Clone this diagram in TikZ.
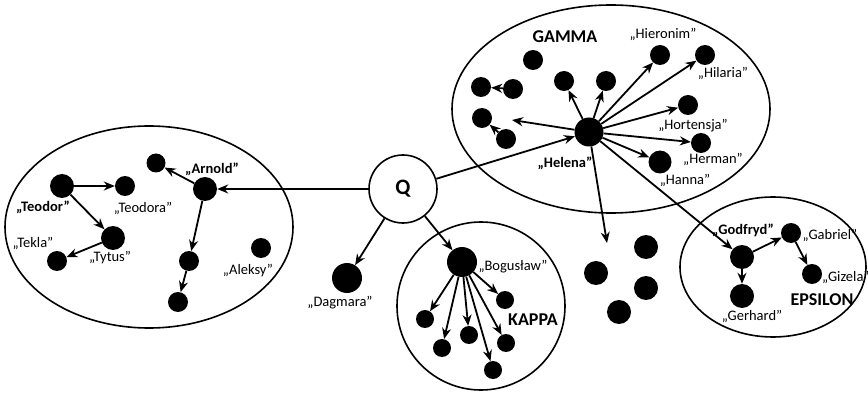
\documentclass[tikz,border=0pt]{standalone}
\usepackage{fontspec}
\setmainfont{Carlito}
\usetikzlibrary{arrows.meta}

\begin{document}
\begin{tikzpicture}[x=1pt, y=-1pt, >={Stealth[length=11pt, width=9pt]},
        pers/.style={circle, fill=black, inner sep=0pt, minimum size=#1},
        pers/.default=20,
        imie/.style={font=\fontsize{14.5}{16}\selectfont, inner sep=0pt},
        imieB/.style={font=\fontsize{14.5}{16}\selectfont\bfseries, inner sep=0pt},
        grupa/.style={font=\fontsize{18}{20}\selectfont\bfseries, inner sep=0pt},
        rel/.style={->, line width=1.8pt},
        zbior/.style={line width=1.6pt}]
        \useasboundingbox (0,0) rectangle (868,393);

        % zbiory
        \draw[zbior] (149,227) ellipse [x radius=144, y radius=101];
        \draw[zbior] (481,306) circle [radius=84];
        \draw[zbior] (611,109) ellipse [x radius=159, y radius=104];
        \draw[zbior] (773,267) ellipse [x radius=93, y radius=70];

        % Q
        \node[draw, circle, line width=1.6pt, minimum size=68, inner sep=0pt,
        font=\fontsize{22}{24}\selectfont\bfseries] (q) at (403,189) {Q};

        % lewy zbior
        \node[pers=24] (teodor) at (62,186) {};
        \node[pers] (teodora) at (125,186) {};
        \node[pers=24] (tytus) at (113,238) {};
        \node[pers] (tekla) at (57,261) {};
        \node[pers=24] (arnold) at (205,189) {};
        \node[pers=19] (arnoldL) at (156,163) {};
        \node[pers] (arnoldD) at (189,261) {};
        \node[pers] (arnoldDD) at (178,302) {};
        \node[pers] (aleksy) at (261,248) {};

        \draw[rel] (teodor) -- (teodora);
        \draw[rel] (teodor) -- (tytus);
        \draw[rel] (tytus) -- (tekla);
        \draw[rel] (arnold) -- (arnoldL);
        \draw[rel] (arnold) -- (arnoldD);
        \draw[rel] (arnoldD) -- (arnoldDD);

        \node[imieB] (lTeodor) at (43,207) {„Teodor”};
        \node[imie] (lTeodora) at (143,208) {„Teodora”};
        \node[imie] (lTytus) at (110,258) {„Tytus”};
        \node[imie] (lTekla) at (33,243) {„Tekla”};
        \node[imieB] (lArnold) at (212,169) {„Arnold”};
        \node[imie] (lAleksy) at (248,271) {„Aleksy”};

        % Dagmara i KAPPA
        \node[pers=30] (dagmara) at (347,278) {};
        \node[imie] (lDagmara) at (340,303) {„Dagmara”};
        \node[pers=30] (boguslaw) at (462,262) {};
        \node[imie] (lBoguslaw) at (513,267) {„Bogusław”};
        \node[grupa] (lKappa) at (533,320) {KAPPA};
        \foreach \n/\x/\y in {k1/505/300, k2/425/319, k3/442/348,
            k4/469/335, k5/506/343, k6/493/370} {
            \node[pers=18] (\n) at (\x,\y) {};
            \draw[rel] (boguslaw) -- (\n);
        }

        % GAMMA
        \node[grupa] (lGamma) at (565,37) {GAMMA};
        \node[pers=29] (helena) at (589,132) {};
        \node[pers] (hieronim) at (660,55) {};
        \node[pers] (hilaria) at (705,55) {};
        \node[pers] (hortensja) at (688,105) {};
        \node[pers] (herman) at (701,143) {};
        \node[pers=23] (hanna) at (660,162) {};
        \node[pers] (gUL) at (564,81) {};
        \node[pers] (gUR) at (606,81) {};
        \node[pers] (gSolo) at (533,60) {};
        \node[pers] (gA) at (481,87) {};
        \node[pers] (gB) at (513,89) {};
        \node[pers] (gC) at (482,118) {};
        \node[pers] (gD) at (506,139) {};
        \coordinate (gFree) at (512,120);
        \coordinate (dFree) at (607,243);

        \draw[rel] (gB) -- (gA);
        \draw[rel] (gD) -- (gC);

        \node[imieB] (lHelena) at (565,163) {„Helena”};
        \node[imie] (lHieronim) at (663,34) {„Hieronim”};
        \node[imie] (lHilaria) at (723,73) {„Hilaria”};
        \node[imie] (lHortensja) at (693,126) {„Hortensja”};
        \node[imie] (lHerman) at (713,159) {„Herman”};
        \node[imie] (lHanna) at (685,180) {„Hanna”};

        % wolne
        \foreach \n/\x/\y in {f1/646/247, f2/596/273, f3/646/288, f4/619/312}
            \node[pers=24] (\n) at (\x,\y) {};

        % EPSILON
        \node[pers=24] (godfryd) at (742,257) {};
        \node[pers] (gabriel) at (791,233) {};
        \node[pers] (gizela) at (812,274) {};
        \node[pers=24] (gerhard) at (742,296) {};
        \draw[rel] (godfryd) -- (gabriel);
        \draw[rel] (godfryd) -- (gerhard);
        \draw[rel] (gabriel) -- (gizela);

        \node[imieB] (lGodfryd) at (743,230) {„Godfryd”};
        \node[imie] (lGabriel) at (830,235) {„Gabriel”};
        \node[imie, anchor=west] (lGizela) at (822,277) {„Gizela”};
        \node[imie] (lGerhard) at (752,316) {„Gerhard”};
        \node[grupa] (lEpsilon) at (822,300) {EPSILON};

        % relacje od Helena
        \foreach \c in {gUL, gUR, hieronim, hilaria, hortensja, herman, hanna,
            gFree, dFree, godfryd}
            \draw[rel] (helena) -- (\c);

        % relacje od Q
        \draw[rel] (q) -- (arnold);
        \draw[rel] (q) -- (helena);
        \draw[rel] (q) -- (dagmara);
        \draw[rel] (q) -- (boguslaw);

    \end{tikzpicture}
\end{document}
